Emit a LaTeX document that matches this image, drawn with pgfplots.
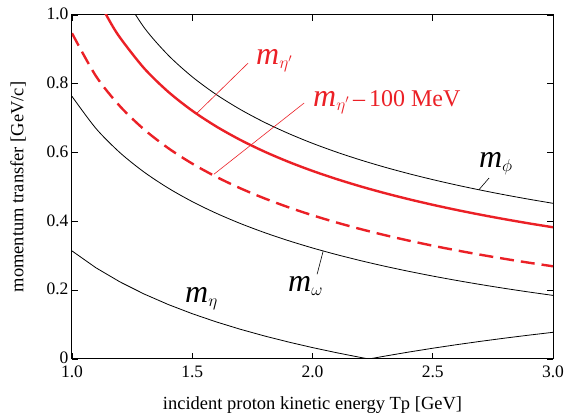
\documentclass[border=0pt]{standalone}
\usepackage{pgfplots}
\pgfplotsset{compat=1.18}
\usepackage{fontspec}
\setmainfont{Liberation Serif}
\definecolor{ered}{RGB}{235,32,38}

% m label: big italic m with a lowered Greek subscript
\newcommand{\mlab}[1]{{\fontsize{32}{36}\selectfont\itshape m}\raisebox{-4pt}{\fontsize{17}{20}\selectfont$#1$}}

\begin{document}
\begin{tikzpicture}
\useasboundingbox (-72pt,-61pt) rectangle (496pt,359pt);
\begin{axis}[
    scale only axis,
    width=481pt, height=344pt,
    xmin=1, xmax=3, ymin=0, ymax=1,
    xtick={1,1.5,2,2.5,3},
    xticklabels={1.0,1.5,2.0,2.5,3.0},
    ytick={0,0.2,0.4,0.6,0.8,1},
    yticklabels={0,0.2,0.4,0.6,0.8,1.0},
    tick align=inside,
    major tick length=6pt,
    tick style={black, line width=0.8pt},
    axis line style={line width=1pt},
    ticklabel style={font=\fontsize{17.5}{20}\selectfont},
    xticklabel style={yshift=-3pt},
    yticklabel style={yshift=1pt},
    label style={font=\fontsize{18.5}{22}\selectfont},
    xlabel={incident proton kinetic energy Tp [GeV]},
    ylabel={momentum transfer [GeV/c]},
    xlabel style={at={(axis description cs:0.5,-0.134)}, anchor=center},
    ylabel style={at={(axis description cs:-0.112,0.5)}, anchor=center},
]

% m_phi
\addplot[black, line width=0.8pt, smooth] coordinates {
(1.2,1.07275) (1.3,0.96345) (1.4,0.88326) (1.5,0.82026) (1.6,0.76870)
(1.7,0.72533) (1.8,0.68810) (1.9,0.65564) (2.0,0.62699) (2.1,0.60146)
(2.2,0.57851) (2.3,0.55773) (2.4,0.53881) (2.5,0.52148) (2.6,0.50553)
(2.7,0.49081) (2.8,0.47715) (2.9,0.46443) (3.0,0.45258)
};

% m_eta'
\addplot[ered, line width=2.4pt, smooth] coordinates {
(1.0,1.28725) (1.05,1.15160) (1.1,1.06038) (1.15,0.99060) (1.2,0.93392)
(1.3,0.84503) (1.4,0.77680) (1.5,0.72174) (1.6,0.67589) (1.7,0.63683)
(1.8,0.60297) (1.9,0.57322) (2.0,0.54679) (2.1,0.52312) (2.2,0.50174)
(2.3,0.48230) (2.4,0.46455) (2.5,0.44824) (2.6,0.43319) (2.7,0.41926)
(2.8,0.40631) (2.9,0.39423) (3.0,0.38295)
};

% m_eta' - 100 MeV
\addplot[ered, line width=2.4pt, smooth, dash pattern=on 14pt off 7pt] coordinates {
(1.0,0.94695) (1.1,0.82198) (1.2,0.73434) (1.3,0.66715) (1.4,0.61300)
(1.5,0.56792) (1.6,0.52953) (1.7,0.49625) (1.8,0.46703) (1.9,0.44106)
(2.0,0.41779) (2.1,0.39678) (2.2,0.37767) (2.3,0.36021) (2.4,0.34417)
(2.5,0.32937) (2.6,0.31565) (2.7,0.30291) (2.8,0.29102) (2.9,0.27990)
(3.0,0.26948)
};

% m_omega
\addplot[black, line width=0.8pt, smooth] coordinates {
(1.0,0.76342) (1.1,0.66984) (1.2,0.59939) (1.3,0.54324) (1.4,0.49686)
(1.5,0.45755) (1.6,0.42362) (1.7,0.39391) (1.8,0.36759) (1.9,0.34404)
(2.0,0.32280) (2.1,0.30353) (2.2,0.28593) (2.3,0.26977) (2.4,0.25488)
(2.5,0.24109) (2.6,0.22828) (2.7,0.21635) (2.8,0.20519) (2.9,0.19472)
(3.0,0.18490)
};

% m_eta
\addplot[black, line width=0.8pt] coordinates {
(1.0,0.31416) (1.1,0.26494) (1.2,0.22390) (1.3,0.18887) (1.4,0.15845)
(1.5,0.13166) (1.6,0.10782) (1.7,0.08640) (1.8,0.06702) (1.9,0.04936)
(2.0,0.03317) (2.1,0.01828) (2.2,0.00451) (2.2345,0) (2.3,0.00827)
(2.4,0.02017) (2.5,0.03129) (2.6,0.04171) (2.7,0.05148) (2.8,0.06069)
(2.9,0.06938) (3.0,0.07759)
};

% leader lines
\draw[ered, line width=0.6pt] (axis cs:1.732,0.860) -- (axis cs:1.52,0.715);
\draw[ered, line width=0.6pt] (axis cs:1.965,0.744) -- (axis cs:1.59,0.537);
\draw[black, line width=0.6pt] (axis cs:2.734,0.526) -- (axis cs:2.692,0.492);
\draw[black, line width=0.6pt] (axis cs:2.044,0.313) -- (axis cs:2.019,0.246);

% labels
\node[anchor=base west, inner sep=0pt, text=ered] at (axis cs:1.765,0.855) {\mlab{\eta'}};
\node[anchor=base west, inner sep=0pt, text=ered] at (axis cs:2.002,0.735)
  {\mlab{\eta'}{\fontsize{24}{28}\selectfont\,--\,100 MeV}};
\node[anchor=base west, inner sep=0pt] at (axis cs:2.692,0.558) {\mlab{\phi}};
\node[anchor=base west, inner sep=0pt] at (axis cs:1.898,0.195) {\mlab{\omega}};
\node[anchor=base west, inner sep=0pt] at (axis cs:1.470,0.163) {\mlab{\eta}};
\end{axis}
\end{tikzpicture}
\end{document}
